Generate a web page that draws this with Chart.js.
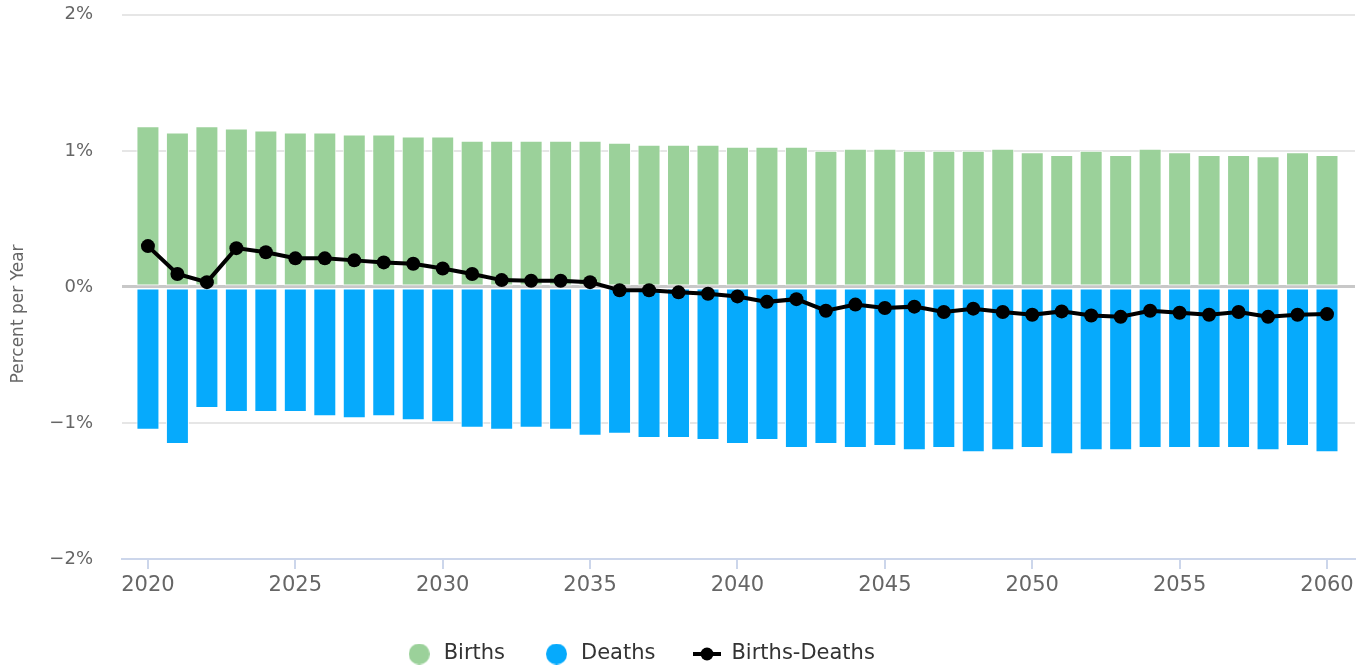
<!DOCTYPE html>
<html>
<head>
<meta charset="utf-8">
<script src="https://cdn.jsdelivr.net/npm/chart.js@4.4.1/dist/chart.umd.min.js"></script>
<style>
  html, body { margin: 0; padding: 0; background: #fff; }
  #wrap { width: 1369px; height: 670px; }
</style>
</head>
<body>
<div id="wrap"><canvas id="popChart" width="1369" height="670"></canvas></div>
<script>
// years on the x axis
const years = [
    2020, 2021, 2022, 2023, 2024, 2025, 2026, 2027, 2028, 2029,
    2030, 2031, 2032, 2033, 2034, 2035, 2036, 2037, 2038, 2039,
    2040, 2041, 2042, 2043, 2044, 2045, 2046, 2047, 2048, 2049,
    2050, 2051, 2052, 2053, 2054, 2055, 2056, 2057, 2058, 2059,
    2060,
];

// percent per year
const births = [
    1.18, 1.135, 1.18, 1.165, 1.15, 1.135, 1.135, 1.12, 1.12, 1.105,
    1.105, 1.075, 1.075, 1.075, 1.075, 1.075, 1.06, 1.045, 1.045, 1.045,
    1.03, 1.03, 1.03, 1.0, 1.015, 1.015, 1.0, 1.0, 1.0, 1.015,
    0.99, 0.97, 1.0, 0.97, 1.015, 0.99, 0.97, 0.97, 0.96, 0.99,
    0.97,
];

const deaths = [
    -1.05, -1.155, -0.89, -0.92, -0.92, -0.92, -0.95, -0.965, -0.95, -0.98,
    -0.995, -1.035, -1.05, -1.035, -1.05, -1.095, -1.08, -1.11, -1.11, -1.125,
    -1.155, -1.125, -1.185, -1.155, -1.185, -1.17, -1.2, -1.185, -1.215, -1.2,
    -1.185, -1.23, -1.2, -1.2, -1.185, -1.185, -1.185, -1.185, -1.2, -1.17,
    -1.215,
];

const net = [
    0.30, 0.095, 0.035, 0.285, 0.255, 0.21, 0.21, 0.195, 0.18, 0.17,
    0.135, 0.095, 0.05, 0.045, 0.045, 0.035, -0.025, -0.025, -0.04, -0.05,
    -0.07, -0.11, -0.09, -0.175, -0.13, -0.155, -0.145, -0.185, -0.16, -0.185,
    -0.205, -0.18, -0.21, -0.22, -0.175, -0.19, -0.205, -0.185, -0.22, -0.205,
    -0.2,
];

const yTicks = [-2, -1, 0, 1, 2];

const FONT = "'DejaVu Sans', sans-serif";
const GREEN = "#9bd19a";
const BLUE = "#06aafc";

// legend icons
function dotIcon(color) {
    const c = document.createElement("canvas");
    c.width = 21;
    c.height = 21;
    const g = c.getContext("2d");
    g.fillStyle = color;
    g.beginPath();
    g.arc(10.5, 10.5, 10.5, 0, Math.PI * 2);
    g.fill();
    return c;
}

const lineIcon = document.createElement("canvas");
lineIcon.width = 28;
lineIcon.height = 14;
{
    const g = lineIcon.getContext("2d");
    g.strokeStyle = "#000";
    g.lineWidth = 4;
    g.beginPath();
    g.moveTo(0, 7);
    g.lineTo(28, 7);
    g.stroke();
    g.fillStyle = "#000";
    g.beginPath();
    g.arc(14, 7, 6.5, 0, Math.PI * 2);
    g.fill();
}

const icons = {
    "Births": dotIcon(GREEN),
    "Deaths": dotIcon(BLUE),
    "Births-Deaths": lineIcon,
};

// legend sits a bit left of center in the original
const legendShift = {
    id: "legendShift",
    afterLayout(chart) {
        chart.legend.left -= 39.5;
        chart.legend.right -= 39.5;
    },
};

const ctx = document.getElementById("popChart").getContext("2d");

const data = {
    labels: years,
    datasets: [
        {
            label: "Births",
            data: births,
            backgroundColor: GREEN,
            borderColor: "#fff",
            borderWidth: 1,
            borderSkipped: false,
            grouped: false,
            order: 2,
        },
        {
            label: "Deaths",
            data: deaths,
            backgroundColor: BLUE,
            borderColor: "#fff",
            borderWidth: 1,
            borderSkipped: false,
            grouped: false,
            order: 3,
        },
        {
            type: "line",
            label: "Births-Deaths",
            data: net,
            borderColor: "#000",
            backgroundColor: "#000",
            borderWidth: 4,
            pointRadius: 7,
            pointBorderWidth: 0,
            pointBackgroundColor: "#000",
            order: 1,
        },
    ],
};

const config = {
    type: "bar",
    data: data,
    plugins: [legendShift],
    options: {
        responsive: false,
        animation: false,
        layout: {
            padding: { top: 0, right: 14, bottom: -4.5, left: 4 },
        },
        categoryPercentage: 1,
        barPercentage: 0.78,
        plugins: {
            tooltip: { enabled: false },
            legend: {
                position: "bottom",
                labels: {
                    usePointStyle: true,
                    pointStyleWidth: 28,
                    boxHeight: 21,
                    padding: 37.5,
                    color: "#333333",
                    font: { family: FONT, size: 21 },
                    sort: (a, b) => {
                        const rank = { "Births": 0, "Deaths": 1, "Births-Deaths": 2 };
                        return rank[a.text] - rank[b.text];
                    },
                    generateLabels: (chart) => {
                        const items = Chart.defaults.plugins.legend.labels.generateLabels(chart);
                        items.forEach((it) => {
                            it.pointStyle = icons[it.text];
                        });
                        return items;
                    },
                },
            },
        },
        scales: {
            x: {
                type: "linear",
                min: 2019.12,
                max: 2060.95,
                offset: false,
                afterFit: (axis) => {
                    axis.height = 47;
                },
                ticks: {
                    stepSize: 5,
                    includeBounds: false,
                    color: "#666666",
                    font: { family: FONT, size: 21 },
                    padding: 4,
                    maxRotation: 0,
                    callback: (v) => String(v),
                },
                grid: {
                    offset: false,
                    drawOnChartArea: false,
                    drawTicks: true,
                    tickLength: 10,
                    color: "#ccd6eb",
                    lineWidth: 2,
                },
                border: {
                    display: true,
                    color: "#ccd6eb",
                    width: 2,
                },
            },
            y: {
                min: -2,
                max: 2,
                afterBuildTicks: (axis) => {
                    axis.ticks = yTicks.map((v) => ({ value: v }));
                },
                afterFit: (axis) => {
                    axis.width = 118;
                },
                ticks: {
                    color: "#666666",
                    font: { family: FONT, size: 18 },
                    padding: 4,
                    callback: (v) => (v < 0 ? "\u2212" : "") + Math.abs(v) + "%",
                },
                grid: {
                    drawTicks: true,
                    tickLength: 25,
                    tickColor: "rgba(0,0,0,0)",
                    color: (c) => {
                        if (c.tick.value === 0) return "#c8c8c8";
                        if (c.tick.value === -2) return "#ccd6eb";
                        return "#e6e6e6";
                    },
                    lineWidth: (c) => (c.tick.value === 0 ? 3 : 2),
                },
                border: { display: false },
                title: {
                    display: true,
                    // trailing spaces push the text down, as in the original
                    text: "Percent per Year          ",
                    color: "#666666",
                    font: { family: FONT, size: 17 },
                    padding: { top: 4, bottom: 4 },
                },
            },
        },
    },
};

const popChart = new Chart(ctx, config);
</script>
</body>
</html>
